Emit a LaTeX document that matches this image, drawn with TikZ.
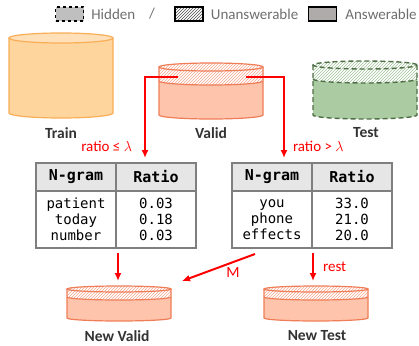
\documentclass[tikz,border=0pt]{standalone}
\usepackage{fontspec}
\setmainfont{Carlito}
\newfontfamily\tabfont{DejaVu Sans Mono}
\usetikzlibrary{arrows.meta,patterns,positioning}

\definecolor{trainfill}{HTML}{FFD59E}
\definecolor{trainline}{HTML}{F8AE57}
\definecolor{traintop}{HTML}{FFE0B8}
\definecolor{validfill}{HTML}{FFC4AC}
\definecolor{validline}{HTML}{EF7D57}
\definecolor{validhatch}{HTML}{F7A88C}
\definecolor{testfill}{HTML}{ABCBA3}
\definecolor{testline}{HTML}{4E6E45}
\definecolor{testhatch}{HTML}{A3C49B}
\definecolor{labelgray}{HTML}{333333}
\definecolor{leggray}{HTML}{6E6E6E}
\definecolor{tabline}{HTML}{7F7F7F}
\definecolor{tabhead}{HTML}{E7E6E6}
\definecolor{hidgray}{HTML}{BFBFBF}
\definecolor{ansgray}{HTML}{AFABAB}

\tikzset{
	>={Latex[length=8pt,width=7pt]},
	flow/.style={->, draw=red, line width=2pt},
	flowlab/.style={text=red, inner sep=1pt, font=\fontsize{15}{17}\selectfont},
	dblabel/.style={text=labelgray, font=\fontsize{15.5}{18}\selectfont\bfseries},
	legbox/.style={minimum width=28, minimum height=14, inner sep=0pt, line width=1.4pt},
	legtxt/.style={text=leggray, inner sep=1pt, font=\fontsize{15}{17}\selectfont},
	cell/.style={draw=tabline, line width=1.5pt, minimum width=80, inner sep=0pt, outer sep=0pt, align=center},
	headcell/.style={cell, fill=tabhead, minimum height=28, font=\tabfont\fontsize{15}{17}\selectfont\bfseries},
	bodycell/.style={cell, minimum height=57, font=\tabfont\fontsize{14}{16}\selectfont},
	trainbody/.style={fill=trainfill},
	trainedge/.style={draw=trainline, line width=1.2pt},
	validbody/.style={fill=validfill},
	validedge/.style={draw=validline, line width=1.2pt},
	validband/.style={pattern=north east lines, pattern color=validhatch},
	testbody/.style={fill=testfill},
	testedge/.style={draw=testline, line width=1.4pt, dash pattern=on 5pt off 3pt},
	testband/.style={pattern=north east lines, pattern color=testhatch},
}

% plain data store: x, top, bottom, ry, kind
\newcommand{\cylplain}[5]{%
	\path[#5body] (#1-52,-#2) -- (#1-52,-#3) arc[start angle=180,end angle=360,x radius=52,y radius=#4] -- (#1+52,-#2) -- cycle;
	\draw[#5edge] (#1-52,-#2) -- (#1-52,-#3) arc[start angle=180,end angle=360,x radius=52,y radius=#4] -- (#1+52,-#2);
	\draw[#5edge, fill=traintop] (#1,-#2) ellipse[x radius=52,y radius=#4];
}
% data store with hidden band: x, top, band, bottom, ry, kind
\newcommand{\cylband}[6]{%
	\path[#6body] (#1-52,-#2) -- (#1-52,-#4) arc[start angle=180,end angle=360,x radius=52,y radius=#5] -- (#1+52,-#2) -- cycle;
	\fill[white] (#1-52,-#2) -- (#1-52,-#3) arc[start angle=180,end angle=360,x radius=52,y radius=#5] -- (#1+52,-#2) arc[start angle=0,end angle=180,x radius=52,y radius=#5] -- cycle;
	\path[#6band] (#1-52,-#2) -- (#1-52,-#3) arc[start angle=180,end angle=360,x radius=52,y radius=#5] -- (#1+52,-#2) arc[start angle=0,end angle=180,x radius=52,y radius=#5] -- cycle;
	\draw[#6edge] (#1-52,-#2) -- (#1-52,-#4) arc[start angle=180,end angle=360,x radius=52,y radius=#5] -- (#1+52,-#2);
	\draw[#6edge] (#1-52,-#3) arc[start angle=180,end angle=360,x radius=52,y radius=#5];
	\draw[#6edge] (#1,-#2) ellipse[x radius=52,y radius=#5];
}

\begin{document}
\begin{tikzpicture}[x=1pt,y=1pt]
	\useasboundingbox (0,0) rectangle (419,-345);

	% legend
	\node[legbox, draw=black, dashed, fill=hidgray] (khid) at (69.5,-14) {};
	\node[legtxt, right=6 of khid] (thid) {Hidden};
	\node[legtxt] (tsl) at (152,-14) {/};
	\node[legbox, draw=black, pattern=north east lines, pattern color=black!70] (kuna) at (189,-14) {};
	\node[legtxt, right=6 of kuna] (tuna) {Unanswerable};
	\node[legbox, draw=black, fill=ansgray] (kans) at (322.5,-14) {};
	\node[legtxt, right=7 of kans] (tans) {Answerable};

	% data stores
	\cylplain{61}{38}{113}{5}{train}
	\cylband{211}{67}{81}{115}{4}{valid}
	\cylband{365}{65}{79}{115}{4}{test}
	\cylband{119}{289}{297}{318}{3}{valid}
	\cylband{316}{289}{297}{318}{3}{valid}

	\node[dblabel] (ltrain) at (61,-133) {Train};
	\node[dblabel] (lvalid) at (211,-133) {Valid};
	\node[dblabel] (ltest) at (366,-133) {Test};
	\node[dblabel] (lnvalid) at (117,-336) {New Valid};
	\node[dblabel] (lntest) at (317,-336) {New Test};

	% tables
	\node[headcell] (lh1) at (76,-177) {N-gram};
	\node[headcell, right=0 of lh1] (lh2) {Ratio};
	\node[bodycell, below=0 of lh1] (lb1) {patient\\today\\number};
	\node[bodycell, below=0 of lh2] (lb2) {0.03\\0.18\\0.03};

	\node[headcell] (rh1) at (272,-177) {N-gram};
	\node[headcell, right=0 of rh1] (rh2) {Ratio};
	\node[bodycell, below=0 of rh1] (rb1) {you\\phone\\effects};
	\node[bodycell, below=0 of rh2] (rb2) {33.0\\21.0\\20.0};

	% split
	\coordinate (vbl) at (178,-77);
	\coordinate (vbr) at (246,-77);
	\draw[flow] (vbl) -| ([xshift=29,yshift=5]lh2.north west)
		node[flowlab, pos=.93, left=11] {ratio ≤ $\lambda$};
	\draw[flow] (vbr) -| ([xshift=-28,yshift=5]rh1.north east)
		node[flowlab, pos=.93, right=7] {ratio > $\lambda$};

	% merge
	\coordinate (nvtop) at (118,-281);
	\coordinate (nvin) at (182,-281);
	\coordinate (nttop) at (313,-281);
	\draw[flow] ([xshift=2,yshift=-5]lb1.south east) -- (nvtop);
	\draw[flow] ([xshift=23,yshift=-6]rb1.south west) -- (nvin)
		node[flowlab, pos=.42, anchor=north west, font=\fontsize{15.5}{17}\selectfont] {$\mathrm{M}$};
	\draw[flow] ([xshift=1,yshift=-5]rb1.south east) -- (nttop)
		node[flowlab, midway, right=8] {rest};

\end{tikzpicture}
\end{document}
